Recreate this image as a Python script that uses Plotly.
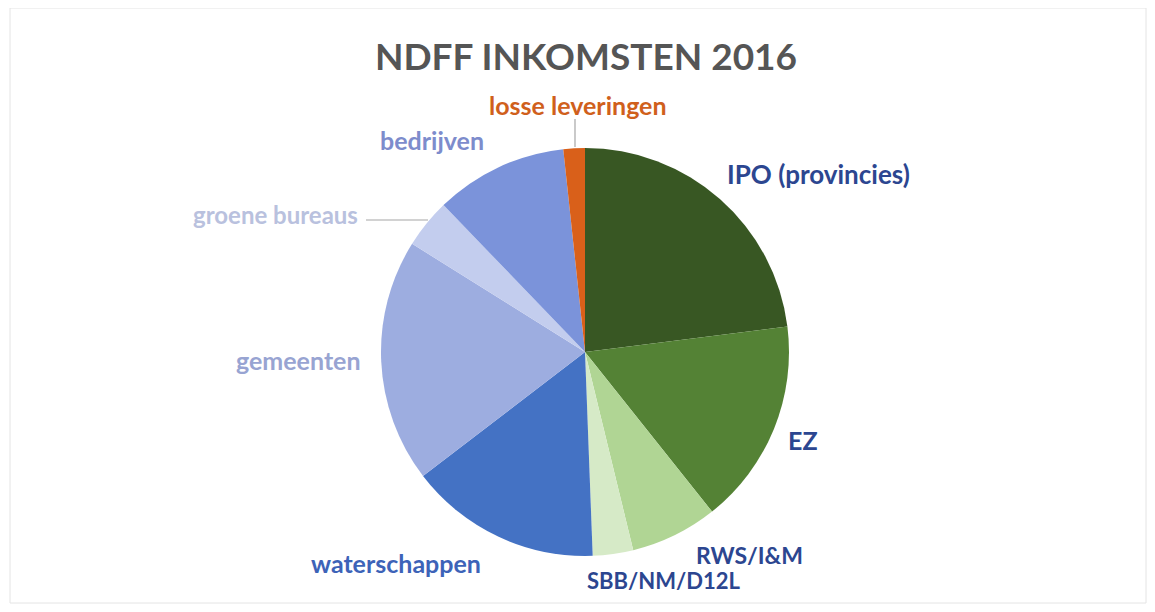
import plotly.graph_objects as go

title = "NDFF INKOMSTEN 2016"
labels = ["IPO (provincies)", "EZ", "RWS/I&M", "SBB/NM/D12L", "waterschappen",
          "gemeenten", "groene bureaus", "bedrijven", "losse leveringen"]
values = [23.0, 16.3, 6.9, 3.2, 15.2, 19.3, 3.9, 10.5, 1.7]
slice_colors = ["#385723", "#548235", "#b0d594", "#d6eac7", "#4472c4",
                "#9dade0", "#c3cdee", "#7b93da", "#d9601a"]
label_colors = ["#2c4690", "#2c4690", "#2c4690", "#2c4690", "#3d63b8",
                "#98a4d2", "#b9c1de", "#7d8ccc", "#d0601c"]
# label anchor positions in screen pixels (x, y from top) and font sizes
label_pos = [(818, 174), (803, 440), (749, 555), (664, 580), (396, 563),
             (299, 360), (275, 214), (432, 140), (578, 105)]
label_size = [26, 25, 23, 22, 25, 25, 24, 25, 25]

W, H = 1155, 612
OX, OY = 8, 8  # page body margin offset
cx, cy, r = 585, 351, 204


def px(x):
    return (x - OX) / W


def py(y):
    return 1 - (y - OY) / H


fig = go.Figure(go.Pie(
    labels=labels, values=values, sort=False, direction="clockwise", rotation=0,
    marker=dict(colors=slice_colors, line=dict(width=0)),
    textinfo="none", hoverinfo="label+percent",
    domain=dict(x=[(cx - 8 - r) / W, (cx - 8 + r) / W],
                y=[(H - cy + 7 - r) / H, (H - cy + 7 + r) / H]),
    showlegend=False,
))

for lab, col, (x, y), s in zip(labels, label_colors, label_pos, label_size):
    fig.add_annotation(x=px(x), y=py(y), xref="paper", yref="paper",
                       text="<b>" + lab + "</b>", showarrow=False,
                       font=dict(family="Lato", size=s, color=col),
                       xanchor="center", yanchor="middle")

# leader lines
fig.add_shape(type="line", xref="paper", yref="paper",
              x0=px(366), x1=px(428), y0=py(220), y1=py(220),
              line=dict(color="#a6a6a6", width=1.2))
fig.add_shape(type="line", xref="paper", yref="paper",
              x0=px(575), x1=px(575), y0=py(119), y1=py(147),
              line=dict(color="#a6a6a6", width=1.2))
# faint chart border
fig.add_shape(type="rect", xref="paper", yref="paper",
              x0=px(10), x1=px(1146), y0=py(603), y1=py(8),
              line=dict(color="#e4e4e4", width=1))

fig.update_layout(
    width=W, height=H, margin=dict(l=0, r=0, t=0, b=0),
    paper_bgcolor="white", plot_bgcolor="white",
    title=dict(text="<b>" + title + "</b>", x=px(586), xanchor="center",
               y=py(57), yanchor="middle",
               font=dict(family="Lato", size=37, color="#555555")),
)

fig.write_html("out.html")
